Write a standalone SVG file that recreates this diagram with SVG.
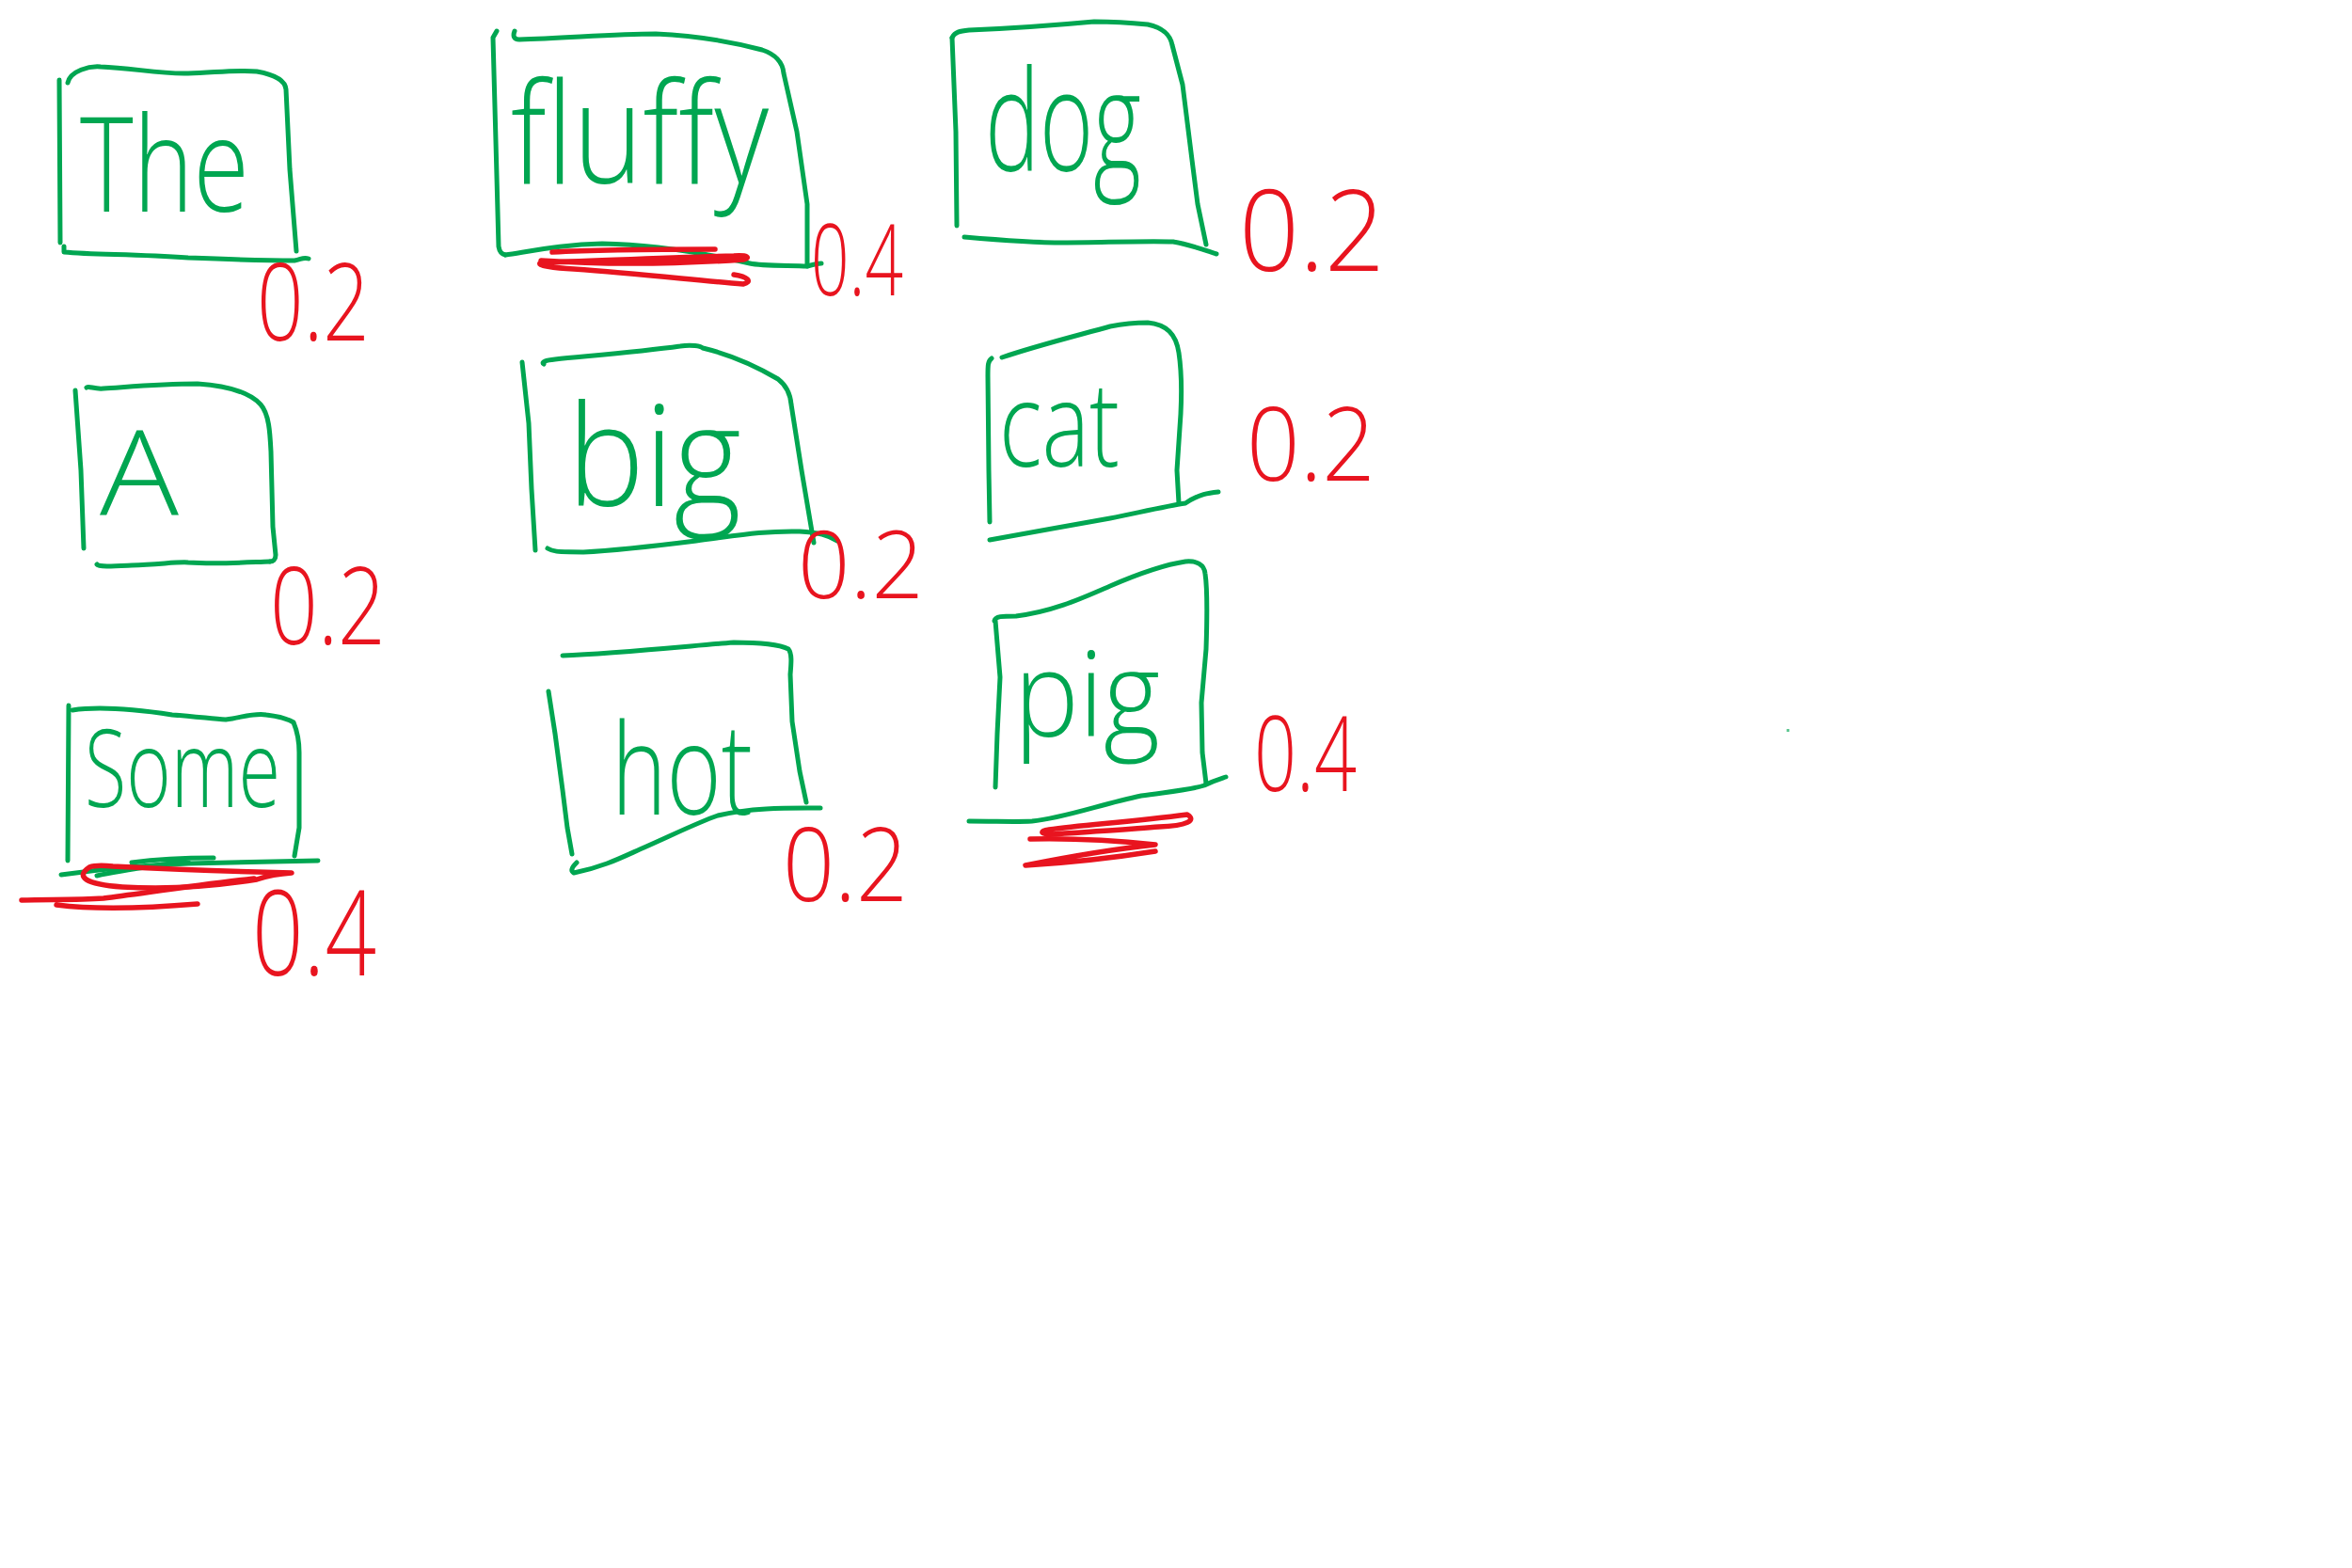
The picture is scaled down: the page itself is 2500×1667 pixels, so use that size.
<svg xmlns="http://www.w3.org/2000/svg" width="2500" height="1667" viewBox="0 0 2500 1667">
<style>
.g{fill:none;stroke:#00A651;stroke-width:5;stroke-linecap:round;stroke-linejoin:round}
.r{fill:none;stroke:#E8141F;stroke-width:5.5;stroke-linecap:round;stroke-linejoin:round}
.w{font-family:"Open Sans","Liberation Sans",sans-serif;font-weight:300;fill:#00A651}
.n{font-family:"Open Sans","Liberation Sans",sans-serif;font-weight:300;fill:#E8141F}
</style>
<rect width="2500" height="1667" fill="#FFFFFF"/>

<g id="node-the">
<path class="g" d="M63,85 L64,258"/>
<path class="g" d="M72,88 C75,75 95,70 107,71 C140,72 170,79 200,78 C230,77 255,74 273,76 C290,79 303,84 304,95 L308,180 L315,267"/>
<path class="g" d="M68,262 L68,268 C100,271 140,270 200,274 C250,276 290,277 313,277 C320,276 322,273 328,275"/>
<text class="w" x="85" y="225" font-size="140" textLength="180" lengthAdjust="spacingAndGlyphs">The</text>
<text class="n" x="273" y="362" font-size="115" textLength="120" lengthAdjust="spacingAndGlyphs">0.2</text>
</g>

<g id="node-fluffy">
<path class="g" d="M528,33 L524,40 L527,150 L530,262 C531,268 533,270 537,271"/>
<path class="g" d="M547,33 C545,38 546,42 552,42 C600,41 650,36 697,36 C740,38 780,45 810,53 C825,58 832,66 833,78 L847,140 L858,217 L858,283"/>
<path class="g" d="M537,271 C570,266 600,260 640,259 C690,260 740,267 797,280 C810,283 840,282 858,283 C865,281 870,280 873,280"/>
<text class="w" x="543" y="195" font-size="150" textLength="274" lengthAdjust="spacingAndGlyphs">fluffy</text>
<path class="r" d="M587,268 C640,265 700,265 760,265"/>
<path class="r" d="M575,277 C620,280 700,282 790,276 C798,274 795,271 780,272 C700,274 620,278 575,279 C568,282 590,285 610,286 C680,291 740,298 790,302 C800,300 795,294 780,292"/>
<text class="n" x="862" y="314" font-size="105" textLength="98" lengthAdjust="spacingAndGlyphs">0.4</text>
</g>

<g id="node-dog">
<path class="g" d="M1012,40 L1016,140 L1017,240"/>
<path class="g" d="M1012,40 C1015,34 1020,33 1030,32 C1080,30 1120,27 1163,23 C1190,23 1210,25 1220,26 C1238,30 1244,38 1246,48 L1257,90 L1262,130 L1267,170 L1273,217 L1282,260"/>
<path class="g" d="M1025,252 C1060,255 1100,258 1130,258 C1170,258 1210,256 1247,257 C1265,260 1280,266 1293,270"/>
<text class="w" x="1047" y="182" font-size="150" textLength="166" lengthAdjust="spacingAndGlyphs">dog</text>
<text class="n" x="1317" y="288" font-size="120" textLength="155" lengthAdjust="spacingAndGlyphs">0.2</text>
</g>

<g id="node-a">
<path class="g" d="M80,415 L86,500 L89,583"/>
<path class="g" d="M92,412 C95,410 100,414 110,413 C140,411 170,408 210,408 C240,410 265,417 277,430 C286,440 287,460 288,480 L290,560 L293,590 C293,595 290,597 287,597"/>
<path class="g" d="M103,600 C105,603 120,602 140,601 C170,600 190,597 200,598 C230,600 260,598 287,597"/>
<text class="w" x="106" y="548" font-size="125" textLength="84" lengthAdjust="spacingAndGlyphs">A</text>
<text class="n" x="287" y="685" font-size="115" textLength="123" lengthAdjust="spacingAndGlyphs">0.2</text>
</g>

<g id="node-big">
<path class="g" d="M555,385 L562,450 L565,520 L569,585"/>
<path class="g" d="M578,387 C575,385 580,383 590,382 C630,378 680,374 723,368 C735,366 745,368 747,370 C780,378 805,390 827,403 C836,410 840,418 841,430 L852,500 L865,577"/>
<path class="g" d="M582,583 C590,588 600,586 620,587 C660,585 700,580 740,575 C780,570 810,564 850,565 C870,566 880,569 890,575"/>
<text class="w" x="603" y="538" font-size="150" textLength="185" lengthAdjust="spacingAndGlyphs">big</text>
<text class="n" x="848" y="636" font-size="100" textLength="134" lengthAdjust="spacingAndGlyphs">0.2</text>
</g>

<g id="node-cat">
<path class="g" d="M1054,381 C1050,384 1050,388 1050,400 L1051,500 L1052,555"/>
<path class="g" d="M1065,380 C1100,368 1140,358 1180,347 C1200,343 1215,343 1220,343 C1240,345 1250,355 1253,375 C1256,395 1256,420 1255,440 L1251,500 L1253,535"/>
<path class="g" d="M1052,574 C1090,567 1140,558 1180,551 C1210,545 1240,538 1260,535 C1275,525 1285,524 1295,523"/>
<text class="w" x="1062" y="496" font-size="125" textLength="128" lengthAdjust="spacingAndGlyphs">cat</text>
<text class="n" x="1325" y="511" font-size="108" textLength="137" lengthAdjust="spacingAndGlyphs">0.2</text>
</g>

<g id="node-some">
<path class="g" d="M73,750 L72,915"/>
<path class="g" d="M77,755 C110,750 150,755 183,760 C210,762 225,764 240,765 C260,762 270,758 283,760 C300,762 307,765 312,768 C317,780 318,790 318,800 L318,880 L313,910"/>
<path class="g" d="M65,930 C100,925 150,920 200,918 C260,917 300,916 338,915"/>
<path class="g" d="M140,917 C170,913 200,912 227,912 M103,931 C130,925 170,920 200,915" stroke-width="7"/>
<text class="w" x="90" y="858" font-size="115" textLength="208" lengthAdjust="spacingAndGlyphs">Some</text>
<path class="r" d="M95,922 C80,932 90,940 130,943 C180,946 230,942 273,935 C285,931 295,929 310,928 C260,927 180,924 120,921 C110,920 100,920 95,922"/>
<path class="r" d="M23,957 C50,956 80,957 110,955 C150,950 200,942 270,934 M60,962 C100,967 150,966 210,961"/>
<text class="n" x="268" y="1037" font-size="125" textLength="132" lengthAdjust="spacingAndGlyphs">0.4</text>
</g>

<g id="node-hot">
<path class="g" d="M583,735 L590,780 L598,840 L603,880 L608,908"/>
<path class="g" d="M598,697 C650,695 720,688 780,683 C810,683 830,686 838,690 C842,695 841,705 840,717 L842,767 L850,820 L857,853"/>
<path class="g" d="M613,917 C610,920 605,925 610,928 C640,922 660,912 680,903 C710,890 740,875 763,867 C800,858 840,859 872,859"/>
<text class="w" x="650" y="866" font-size="135" textLength="150" lengthAdjust="spacingAndGlyphs">hot</text>
<text class="n" x="832" y="958" font-size="108" textLength="133" lengthAdjust="spacingAndGlyphs">0.2</text>
</g>

<g id="node-pig">
<path class="g" d="M1058,660 L1063,720 L1060,780 L1058,837"/>
<path class="g" d="M1057,660 C1058,655 1065,655 1080,655 C1120,650 1150,636 1180,623 C1210,610 1240,600 1260,597 C1272,596 1280,600 1281,610 C1284,630 1283,660 1282,690 L1277,747 L1278,800 L1282,833"/>
<path class="g" d="M1030,873 C1060,873 1080,874 1097,873 C1130,870 1170,855 1213,846 C1240,842 1265,840 1280,835 C1290,830 1297,828 1303,826"/>
<text class="w" x="1078" y="782" font-size="125" textLength="155" lengthAdjust="spacingAndGlyphs">pig</text>
<path class="r" d="M1115,882 C1150,877 1200,874 1262,866 C1272,872 1262,878 1232,879 C1190,882 1150,885 1115,887 C1105,886 1106,883 1115,882"/>
<path class="r" d="M1095,892 C1140,891 1190,894 1228,898 C1190,902 1140,910 1090,920 C1140,917 1190,911 1228,905"/>
<text class="n" x="1333" y="841" font-size="110" textLength="109" lengthAdjust="spacingAndGlyphs">0.4</text>
</g>

<rect x="1899" y="775" width="3" height="3" fill="#00A651" opacity="0.6"/>
</svg>
